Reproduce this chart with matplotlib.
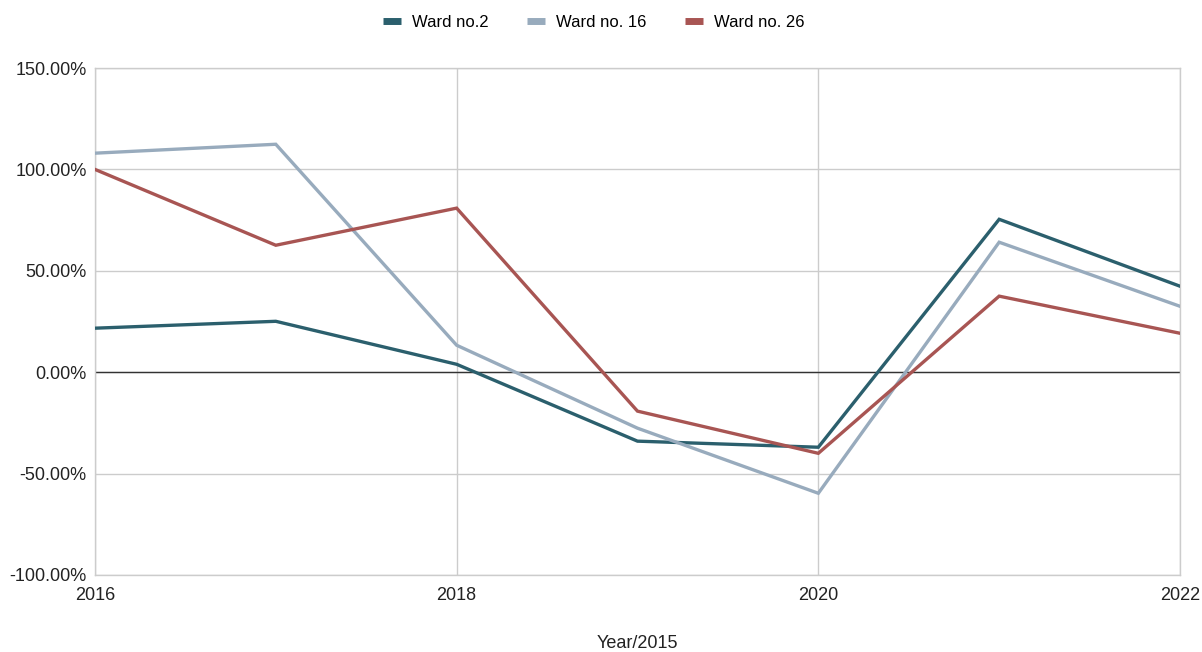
import matplotlib
matplotlib.use("Agg")
import matplotlib.pyplot as plt
from matplotlib.ticker import FuncFormatter, MultipleLocator

plt.rcParams['font.family'] = ['Liberation Sans', 'DejaVu Sans']

years = [2016, 2017, 2018, 2019, 2020, 2021, 2022]
ward_2 = [21.7, 25.1, 3.9, -34.0, -37.0, 75.4, 42.4]
ward_16 = [108.0, 112.4, 13.3, -27.6, -59.7, 64.1, 32.5]
ward_26 = [100.0, 62.6, 80.9, -19.2, -40.0, 37.5, 19.2]
series_names = ["Ward no.2", "Ward no. 16", "Ward no. 26"]
series_colors = ["#2b5f6d", "#98abbd", "#a85553"]

fig = plt.figure(figsize=(12.02, 6.52), dpi=100)
ax = fig.add_axes([0.079, 0.1181, 0.9027, 0.7776])

for vals, name, col in zip([ward_2, ward_16, ward_26], series_names, series_colors):
    ax.plot(years, vals, color=col, linewidth=2.4, label=name, zorder=3,
            solid_joinstyle='miter')

ax.set_xlim(2016, 2022)
ax.set_ylim(-100, 150)
ax.yaxis.set_major_locator(MultipleLocator(50))
ax.xaxis.set_major_locator(MultipleLocator(2))
ax.yaxis.set_major_formatter(FuncFormatter(lambda v, p: f"{v:.2f}%"))
ax.xaxis.set_major_formatter(FuncFormatter(lambda v, p: f"{int(v)}"))

ax.grid(True, color="#cccccc", linewidth=1.0, zorder=0)
ax.axhline(0, color="#333333", linewidth=1.0, zorder=2)
for s in ax.spines.values():
    s.set_color("#cccccc")
    s.set_linewidth(1.0)
ax.tick_params(length=0, labelsize=13, colors="#222222", pad=6)
ax.tick_params(axis='x', pad=9)

ax.set_xlabel("Year/2015", fontsize=13, color="#222222", labelpad=22)

leg = fig.legend(loc="upper center", bbox_to_anchor=(0.494, 1.0), ncol=3,
                 frameon=False, fontsize=12, handlelength=1.1,
                 handletextpad=0.65, columnspacing=2.3)
for line in leg.get_lines():
    line.set_linewidth(5)
    line.set_solid_capstyle('butt')

fig.savefig("out.png", dpi=100)
